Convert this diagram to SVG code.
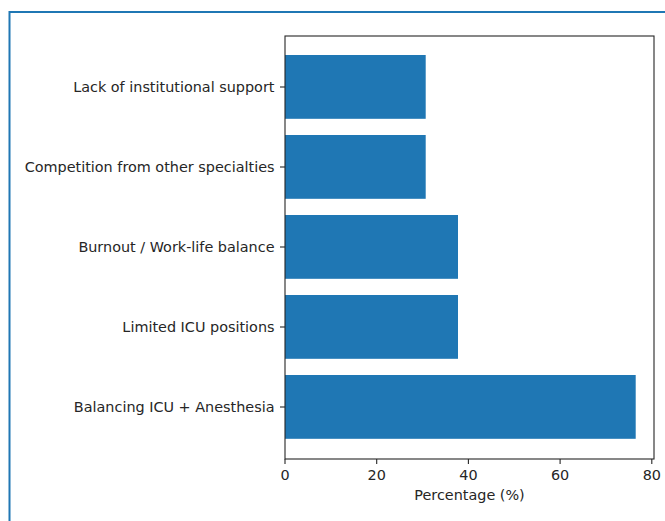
<svg xmlns="http://www.w3.org/2000/svg" width="665" height="521" viewBox="0 0 665 521">
<style>
.lbl{font-family:"DejaVu Sans",sans-serif;font-size:14.4px;fill:#262626}
.ylbl{text-anchor:end}
.xlbl{text-anchor:middle}
.bar{fill:#1f77b4}
.tick{stroke:#262626;stroke-width:1.1}
.spine{fill:none;stroke:#262626;stroke-width:1.1}
</style>
<rect width="665" height="521" fill="#fff"/>
<path d="M9.5,521 V12 H665" fill="none" stroke="#1f77b4" stroke-width="2"/>
<g id="bars">
<rect class="bar" x="285" y="55" width="140.7" height="63.8"/>
<rect class="bar" x="285" y="135" width="140.7" height="63.8"/>
<rect class="bar" x="285" y="215" width="173" height="63.8"/>
<rect class="bar" x="285" y="295" width="173" height="63.8"/>
<rect class="bar" x="285" y="375" width="350.7" height="63.8"/>
</g>
<g id="axes">
<rect class="spine" x="285" y="36" width="369" height="423"/>
<g class="tick">
<line x1="280" y1="87" x2="285" y2="87"/>
<line x1="280" y1="167" x2="285" y2="167"/>
<line x1="280" y1="247" x2="285" y2="247"/>
<line x1="280" y1="327" x2="285" y2="327"/>
<line x1="280" y1="407" x2="285" y2="407"/>
<line x1="285" y1="459" x2="285" y2="464"/>
<line x1="376.7" y1="459" x2="376.7" y2="464"/>
<line x1="468.4" y1="459" x2="468.4" y2="464"/>
<line x1="560.1" y1="459" x2="560.1" y2="464"/>
<line x1="651.8" y1="459" x2="651.8" y2="464"/>
</g>
</g>
<g id="ylabels">
<text class="lbl ylbl" x="274.5" y="92.2">Lack of institutional support</text>
<text class="lbl ylbl" x="274.5" y="172.2">Competition from other specialties</text>
<text class="lbl ylbl" x="274.5" y="252.2">Burnout / Work-life balance</text>
<text class="lbl ylbl" x="274.5" y="332.2">Limited ICU positions</text>
<text class="lbl ylbl" x="274.5" y="412.2">Balancing ICU + Anesthesia</text>
</g>
<g id="xlabels">
<text class="lbl xlbl" x="285" y="479.5">0</text>
<text class="lbl xlbl" x="376.7" y="479.5">20</text>
<text class="lbl xlbl" x="468.4" y="479.5">40</text>
<text class="lbl xlbl" x="560.1" y="479.5">60</text>
<text class="lbl xlbl" x="651.8" y="479.5">80</text>
<text class="lbl xlbl" x="469.5" y="500">Percentage (%)</text>
</g>
</svg>
